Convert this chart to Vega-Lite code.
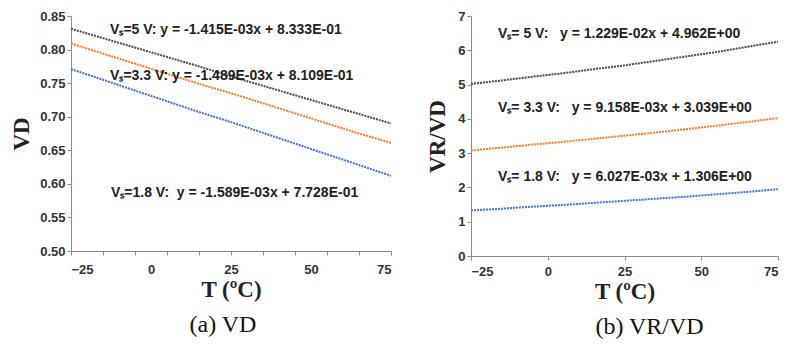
{
  "$schema": "https://vega.github.io/schema/vega-lite/v6.json",
  "background": "white",
  "padding": {"left": 10, "top": 10, "right": 4, "bottom": 5},
  "spacing": 31,
  "config": {
    "view": {"stroke": null},
    "axis": {
      "grid": false,
      "domainColor": "#8a8a8a",
      "tickColor": "#8a8a8a",
      "tickSize": 4,
      "tickCount": 30,
      "labelOverlap": false,
      "labelFont": "Liberation Sans",
      "labelFontWeight": "bold",
      "labelFontSize": 13,
      "labelColor": "#333333",
      "titleFont": "Liberation Serif",
      "titleFontWeight": "bold",
      "titleFontSize": 23,
      "titleColor": "#222222"
    },
    "title": {"font": "Liberation Serif", "fontSize": 24, "fontWeight": "normal", "color": "#111111"}
  },
  "datasets": {
    "a": [
      {"T": -25, "V": 0.831, "series": "5 V"}, {"T": -15, "V": 0.817, "series": "5 V"}, {"T": -5, "V": 0.803, "series": "5 V"}, {"T": 5, "V": 0.789, "series": "5 V"}, {"T": 15, "V": 0.775, "series": "5 V"}, {"T": 25, "V": 0.760, "series": "5 V"}, {"T": 35, "V": 0.746, "series": "5 V"}, {"T": 45, "V": 0.732, "series": "5 V"}, {"T": 55, "V": 0.718, "series": "5 V"}, {"T": 65, "V": 0.704, "series": "5 V"}, {"T": 75, "V": 0.690, "series": "5 V"},
      {"T": -25, "V": 0.809, "series": "3.3 V"}, {"T": -15, "V": 0.794, "series": "3.3 V"}, {"T": -5, "V": 0.779, "series": "3.3 V"}, {"T": 5, "V": 0.764, "series": "3.3 V"}, {"T": 15, "V": 0.749, "series": "3.3 V"}, {"T": 25, "V": 0.735, "series": "3.3 V"}, {"T": 35, "V": 0.720, "series": "3.3 V"}, {"T": 45, "V": 0.705, "series": "3.3 V"}, {"T": 55, "V": 0.690, "series": "3.3 V"}, {"T": 65, "V": 0.675, "series": "3.3 V"}, {"T": 75, "V": 0.661, "series": "3.3 V"},
      {"T": -25, "V": 0.771, "series": "1.8 V"}, {"T": -15, "V": 0.755, "series": "1.8 V"}, {"T": -5, "V": 0.739, "series": "1.8 V"}, {"T": 5, "V": 0.723, "series": "1.8 V"}, {"T": 15, "V": 0.707, "series": "1.8 V"}, {"T": 25, "V": 0.692, "series": "1.8 V"}, {"T": 35, "V": 0.676, "series": "1.8 V"}, {"T": 45, "V": 0.660, "series": "1.8 V"}, {"T": 55, "V": 0.644, "series": "1.8 V"}, {"T": 65, "V": 0.628, "series": "1.8 V"}, {"T": 75, "V": 0.612, "series": "1.8 V"}
    ],
    "b": [
      {"T": -25, "V": 5.02, "series": "5 V"}, {"T": -15, "V": 5.12, "series": "5 V"}, {"T": -5, "V": 5.23, "series": "5 V"}, {"T": 5, "V": 5.33, "series": "5 V"}, {"T": 15, "V": 5.45, "series": "5 V"}, {"T": 25, "V": 5.56, "series": "5 V"}, {"T": 35, "V": 5.69, "series": "5 V"}, {"T": 45, "V": 5.82, "series": "5 V"}, {"T": 55, "V": 5.95, "series": "5 V"}, {"T": 65, "V": 6.10, "series": "5 V"}, {"T": 75, "V": 6.25, "series": "5 V"},
      {"T": -25, "V": 3.08, "series": "3.3 V"}, {"T": -15, "V": 3.16, "series": "3.3 V"}, {"T": -5, "V": 3.25, "series": "3.3 V"}, {"T": 5, "V": 3.33, "series": "3.3 V"}, {"T": 15, "V": 3.42, "series": "3.3 V"}, {"T": 25, "V": 3.51, "series": "3.3 V"}, {"T": 35, "V": 3.60, "series": "3.3 V"}, {"T": 45, "V": 3.70, "series": "3.3 V"}, {"T": 55, "V": 3.80, "series": "3.3 V"}, {"T": 65, "V": 3.91, "series": "3.3 V"}, {"T": 75, "V": 4.02, "series": "3.3 V"},
      {"T": -25, "V": 1.33, "series": "1.8 V"}, {"T": -15, "V": 1.38, "series": "1.8 V"}, {"T": -5, "V": 1.44, "series": "1.8 V"}, {"T": 5, "V": 1.49, "series": "1.8 V"}, {"T": 15, "V": 1.55, "series": "1.8 V"}, {"T": 25, "V": 1.61, "series": "1.8 V"}, {"T": 35, "V": 1.67, "series": "1.8 V"}, {"T": 45, "V": 1.73, "series": "1.8 V"}, {"T": 55, "V": 1.80, "series": "1.8 V"}, {"T": 65, "V": 1.87, "series": "1.8 V"}, {"T": 75, "V": 1.95, "series": "1.8 V"}
    ],
    "a_notes": [
      {"T": -12.8, "V": 0.829, "label": "Vₛ=5 V: y = -1.415E-03x + 8.333E-01"},
      {"T": -12.8, "V": 0.760, "label": "Vₛ=3.3 V: y = -1.489E-03x + 8.109E-01"},
      {"T": -12.5, "V": 0.587, "label": "Vₛ=1.8 V: \u00a0y = -1.589E-03x + 7.728E-01"}
    ],
    "b_notes": [
      {"T": -16.2, "V": 6.48, "label": "Vₛ= 5 V: \u00a0\u00a0y = 1.229E-02x + 4.962E+00"},
      {"T": -16.2, "V": 4.33, "label": "Vₛ= 3.3 V: \u00a0\u00a0y = 9.158E-03x + 3.039E+00"},
      {"T": -16.2, "V": 2.29, "label": "Vₛ= 1.8 V: \u00a0\u00a0y = 6.027E-03x + 1.306E+00"}
    ]
  },
  "hconcat": [
    {
      "width": 320,
      "height": 235,
      "title": {"text": "(a) VD", "orient": "bottom", "offset": 12, "dx": -8},
      "layer": [
        {
          "data": {"name": "a"},
          "mark": {"type": "line", "strokeWidth": 2, "strokeDash": [2, 1]},
          "encoding": {
            "x": {"field": "T", "type": "quantitative", "scale": {"domain": [-25, 75], "nice": false},
                  "axis": {"values": [-25, -15, -5, 0, 5, 15, 25, 35, 45, 50, 55, 65, 75],
                           "tickCount": 30,
                           "labelExpr": "indexof([-25, 0, 25, 50, 75], datum.value) >= 0 ? datum.label : ''",
                           "tickOpacity": {"condition": {"test": "datum.value == 0 || datum.value == 50", "value": 0}, "value": 1},
                           "labelOverlap": false, "labelPadding": 8, "title": "T (ºC)", "titlePadding": 2}},
            "y": {"field": "V", "type": "quantitative", "scale": {"domain": [0.5, 0.85], "zero": false, "nice": false},
                  "axis": {"values": [0.5, 0.55, 0.6, 0.65, 0.7, 0.75, 0.8, 0.85], "tickCount": 30, "format": ".2f", "labelOverlap": false, "title": "VD", "titlePadding": 6}},
            "color": {"field": "series", "type": "nominal", "legend": null,
                      "scale": {"domain": ["5 V", "3.3 V", "1.8 V"], "range": ["#4a4a4a", "#ED7D31", "#4472C4"]}}
          }
        },
        {
          "data": {"name": "a_notes"},
          "mark": {"type": "text", "align": "left", "baseline": "middle", "font": "Liberation Sans", "fontWeight": "bold", "fontSize": 14, "color": "#222222"},
          "encoding": {
            "x": {"field": "T", "type": "quantitative"},
            "y": {"field": "V", "type": "quantitative"},
            "text": {"field": "label"}
          }
        }
      ]
    },
    {
      "width": 307,
      "height": 240,
      "title": {"text": "(b) VR/VD", "orient": "bottom", "offset": 12, "dx": 25},
      "layer": [
        {
          "data": {"name": "b"},
          "mark": {"type": "line", "strokeWidth": 2, "strokeDash": [2, 1]},
          "encoding": {
            "x": {"field": "T", "type": "quantitative", "scale": {"domain": [-25, 75], "nice": false},
                  "axis": {"values": [-25, 0, 25, 50, 75], "tickCount": 30, "labelOverlap": false, "labelPadding": 5, "title": "T (ºC)", "titlePadding": 2}},
            "y": {"field": "V", "type": "quantitative", "scale": {"domain": [0, 7], "nice": false},
                  "axis": {"values": [0, 1, 2, 3, 4, 5, 6, 7], "tickCount": 30, "format": "d", "labelOverlap": false, "title": "VR/VD", "titlePadding": 8}},
            "color": {"field": "series", "type": "nominal", "legend": null,
                      "scale": {"domain": ["5 V", "3.3 V", "1.8 V"], "range": ["#1a1a1a", "#ED7D31", "#4472C4"]}}
          }
        },
        {
          "data": {"name": "b_notes"},
          "mark": {"type": "text", "align": "left", "baseline": "middle", "font": "Liberation Sans", "fontWeight": "bold", "fontSize": 14, "color": "#222222"},
          "encoding": {
            "x": {"field": "T", "type": "quantitative"},
            "y": {"field": "V", "type": "quantitative"},
            "text": {"field": "label"}
          }
        }
      ]
    }
  ]
}
